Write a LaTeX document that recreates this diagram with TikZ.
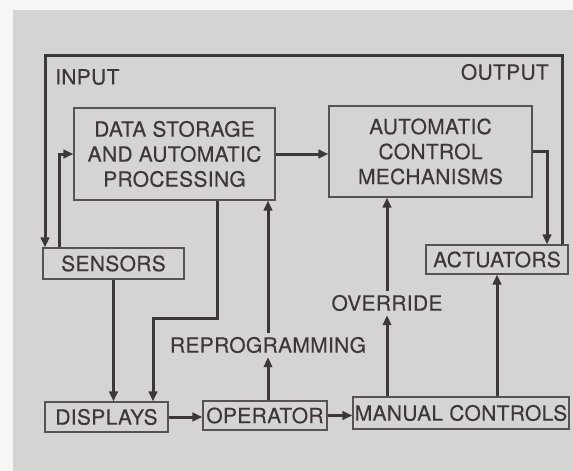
\documentclass[tikz,border=0pt]{standalone}
\usepackage{fontspec}
\setmainfont{TeX Gyre Heros}[FakeBold=0.3, LetterSpace=1.5]
\usepackage{xcolor}
\usetikzlibrary{arrows.meta, positioning}
\definecolor{paperwhite}{RGB}{246, 246, 245}
\definecolor{plategray}{RGB}{214, 212, 210}
\definecolor{inkdark}{RGB}{62, 55, 55}
\definecolor{boxline}{RGB}{88, 82, 82}

\begin{document}
\begin{tikzpicture}[
    x=1pt, y=-1pt,
    block/.style={rectangle, draw=boxline, line width=1.2pt, inner sep=0pt,
                  align=center, text=inkdark,
                  font=\fontsize{21}{25}\selectfont},
    flow/.style={-{Triangle[length=10pt, width=8.5pt]}, draw=inkdark,
                 line width=3pt},
    tag/.style={text=inkdark, inner sep=4pt,
                font=\fontsize{21}{25}\selectfont}
]
    % Page and plate
    \useasboundingbox (0,0) rectangle (573,471);
    \fill[paperwhite] (0,0) rectangle (573,471);
    \fill[plategray] (13,10) rectangle (573,471);

    % Blocks
    \node[block, minimum width=201pt, minimum height=92pt] (storage) at (174.5,154)
        {DATA STORAGE\\AND AUTOMATIC\\PROCESSING};
    \node[block, minimum width=203pt, minimum height=91pt] (control) at (430.5,151.5)
        {AUTOMATIC\\CONTROL\\MECHANISMS};
    \node[block, minimum width=141pt, minimum height=31pt] (sensors) at (113.5,263.5) {SENSORS};
    \node[block, minimum width=142pt, minimum height=29pt] (actuators) at (497,259.5) {ACTUATORS};
    \node[block, minimum width=123pt, minimum height=30pt] (displays) at (106.5,417) {DISPLAYS};
    \node[block, minimum width=124pt, minimum height=29pt] (operator) at (265,415.5) {OPERATOR};
    \node[block, minimum width=216pt, minimum height=32pt] (manual) at (461,413) {MANUAL CONTROLS};

    % Labels
    \node[tag, anchor=west, inner sep=0pt] (input) at (55,77) {INPUT};
    \node[tag, anchor=east, inner sep=0pt] (output) at (549,72) {OUTPUT};
    \node[tag] (reprog) at (268,345) {REPROGRAMMING};
    \node[tag] (override) at (387,303) {OVERRIDE};
    \coordinate (looptop) at (300,55);

    % Outer loop from actuators back to sensors
    \draw[flow] ([xshift=65pt]actuators.north) |- (looptop) -| ([xshift=-68.5pt]sensors.north);

    % Main flow arrows
    \draw[flow] ([xshift=-54.5pt]sensors.north) |- (storage.west);
    \draw[flow] (storage.east) -- (storage.east -| control.west);
    \draw[flow] (control.east) -| ([xshift=50pt]actuators.north);
    \draw[flow] (sensors.south) -- (sensors.south |- displays.north);
    \draw[flow] ([xshift=42.5pt]storage.south) -- ++(0,118) -| ([xshift=46.5pt]displays.north);
    \draw[flow] (displays.east) -- (displays.east -| operator.west);
    \draw[flow] (operator.east) -- (operator.east -| manual.west);

    % Operator and manual paths upward
    \draw[flow] (operator.north -| reprog) -- (reprog);
    \draw[flow] (reprog) -- (reprog |- storage.south);
    \draw[flow] (manual.north -| override) -- (override);
    \draw[flow] (override) -- (override |- control.south);
    \draw[flow] (manual.north -| actuators) -- (actuators.south);
\end{tikzpicture}
\end{document}
